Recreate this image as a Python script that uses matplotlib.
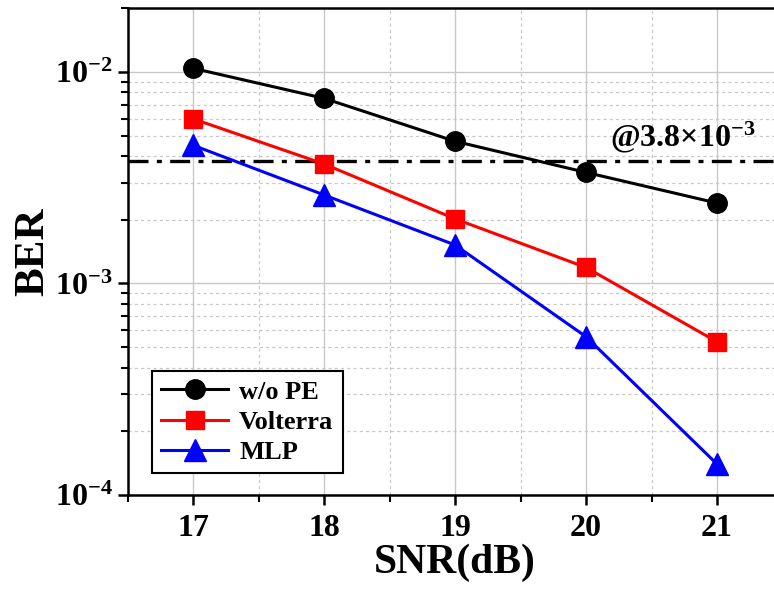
import numpy as np
import matplotlib
matplotlib.use("Agg")
import matplotlib.pyplot as plt
from matplotlib.ticker import LogLocator, MultipleLocator

plt.rcParams.update({
    "font.family": "Liberation Serif",
    "font.weight": "bold",
    "mathtext.fontset": "custom",
    "mathtext.rm": "Liberation Serif:bold",
    "mathtext.it": "Liberation Serif:bold:italic",
    "mathtext.bf": "Liberation Serif:bold",
})

snr = [17, 18, 19, 20, 21]
ber_wo_pe = [1.04e-2, 7.5e-3, 4.7e-3, 3.35e-3, 2.4e-3]
ber_volterra = [6.0e-3, 3.67e-3, 2.02e-3, 1.19e-3, 5.3e-4]
ber_mlp = [4.5e-3, 2.62e-3, 1.52e-3, 5.6e-4, 1.4e-4]
threshold = 3.8e-3

fig = plt.figure(figsize=(7.74, 5.9), dpi=100)
ax = fig.add_axes([0.165, 0.161, 0.846, 0.825])

ax.plot(snr, ber_wo_pe, "-o", color="black", lw=2.2, ms=14, label="w/o PE", zorder=3)
ax.plot(snr, ber_volterra, "-s", color="red", lw=2.2, ms=12.5, label="Volterra", zorder=3)
ax.plot(snr, ber_mlp, "-^", color="blue", lw=2.2, ms=16, label="MLP", zorder=3)
ax.axhline(threshold, color="black", lw=2.4, ls=(0, (6, 2.5, 1.5, 2.5)), zorder=2)
ax.text(20.74, 4.9e-3, r"@3.8$\times$10$^{-3}$", ha="center", va="center", fontsize=23)

ax.set_yscale("log")
ax.set_xlim(16.5, 21.5)
ax.set_ylim(1e-4, 2e-2)
ax.xaxis.set_major_locator(MultipleLocator(1))
ax.xaxis.set_minor_locator(MultipleLocator(0.5))
ax.yaxis.set_major_locator(LogLocator(base=10, numticks=10))
ax.yaxis.set_minor_locator(LogLocator(base=10, subs=np.arange(2, 10), numticks=20))

ax.grid(True, which="major", color="#c8c8c8", lw=1.0, ls="-")
ax.grid(True, which="minor", color="#c8c8c8", lw=0.9, ls=(0, (2.5, 2.5)))
ax.set_axisbelow(True)

for s in ax.spines.values():
    s.set_linewidth(1.8)
ax.tick_params(which="major", direction="out", length=7, width=1.8, labelsize=23)
ax.tick_params(which="minor", direction="out", length=5, width=1.5)
ax.tick_params(axis="x", which="major", pad=7)
ax.tick_params(axis="y", which="major", pad=4)

ax.set_xlabel("SNR(dB)", fontsize=30, fontweight="bold", labelpad=0)
ax.set_ylabel("BER", fontsize=31, fontweight="bold", labelpad=2)

leg = ax.legend(loc="lower left", bbox_to_anchor=(0.037, 0.045), fontsize=19,
                frameon=True, fancybox=False, edgecolor="black", framealpha=1,
                handlelength=2.55, handletextpad=0.4, borderpad=0.35, labelspacing=0.25,
                borderaxespad=0)
leg.get_frame().set_linewidth(1.5)

fig.savefig("out.png", dpi=100)
